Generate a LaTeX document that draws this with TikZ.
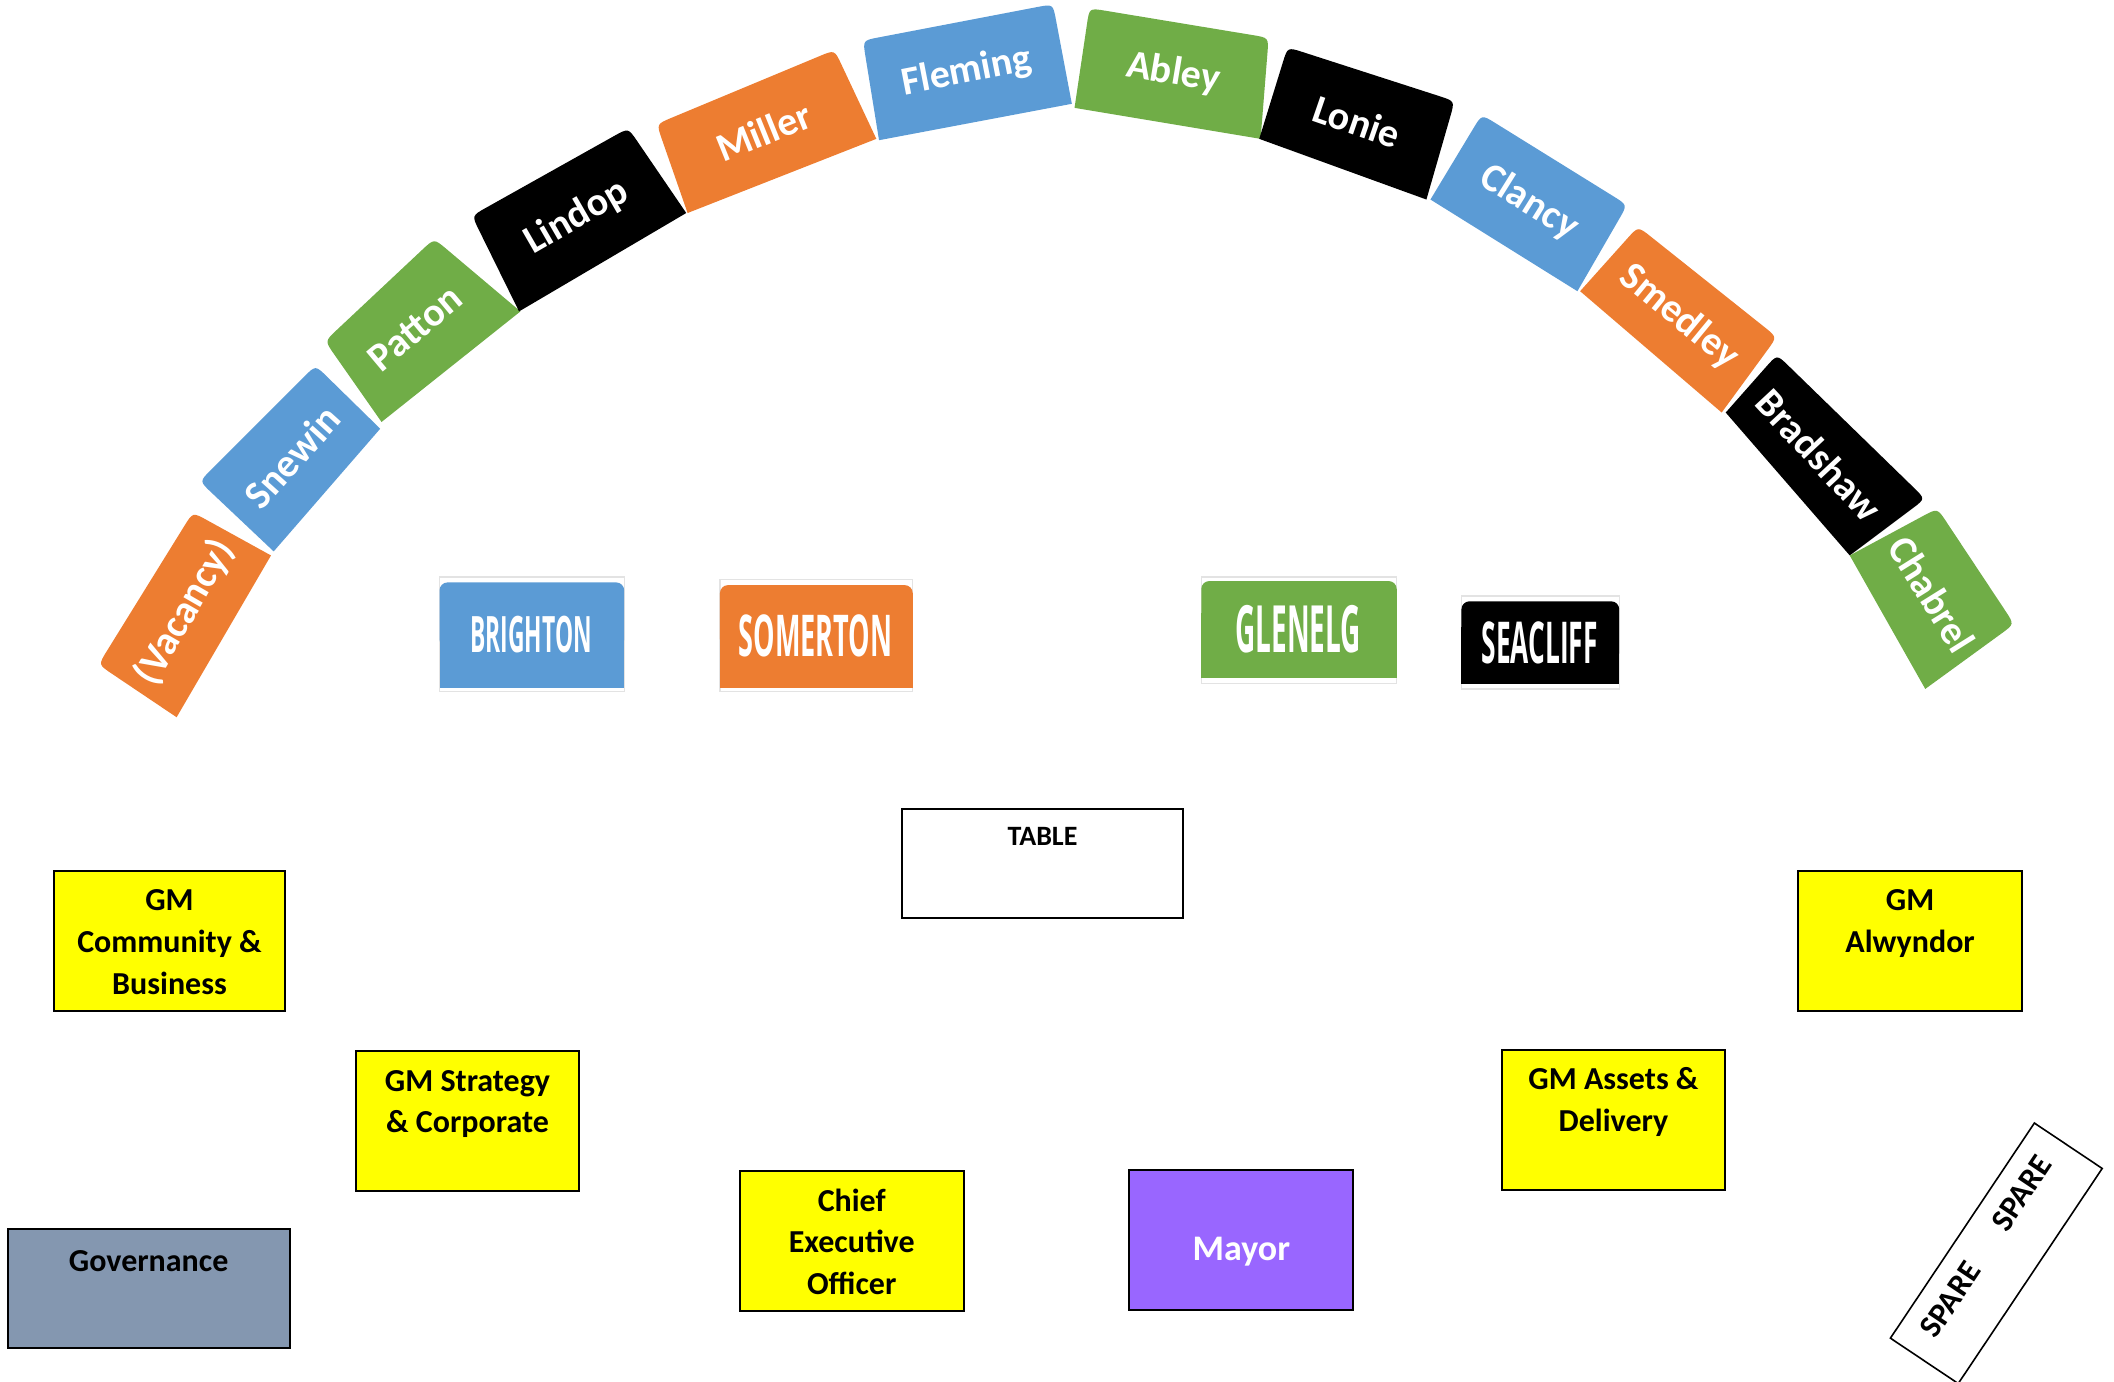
\documentclass[tikz,border=0pt]{standalone}
\usepackage{fontspec}
\setmainfont{Carlito}
\newfontfamily\wardfont{Open Sans}
\usepackage{graphicx}
\usetikzlibrary{calc}
\definecolor{cblue}{HTML}{5B9BD5}
\definecolor{corange}{HTML}{ED7D31}
\definecolor{cgreen}{HTML}{70AD47}
\definecolor{cyellow}{HTML}{FFFF00}
\definecolor{cslate}{HTML}{8497B0}
\definecolor{cpurple}{HTML}{9966FF}

% #1 name, #2 colour, #3 outer corner 1, #4 outer corner 2, #5 inner corner 2, #6 inner corner 1, #7 angle, #8 text
\newcommand{\seat}[8]{%
  \coordinate (#1-a) at (#3);
  \coordinate (#1-b) at (#4);
  \coordinate (#1-c) at (#5);
  \coordinate (#1-d) at (#6);
  \fill[#2] (#1-d) -- ($(#1-a)!8pt!(#1-d)$) .. controls (#1-a) .. ($(#1-a)!8pt!(#1-b)$)
     -- ($(#1-b)!8pt!(#1-a)$) .. controls (#1-b) .. ($(#1-b)!8pt!(#1-c)$) -- (#1-c) -- cycle;
  \coordinate (#1-m1) at ($(#1-a)!0.5!(#1-c)$);
  \coordinate (#1-m2) at ($(#1-b)!0.5!(#1-d)$);
  \node[seattext, rotate=#7] (#1) at ($(#1-m1)!0.5!(#1-m2)$) {#8};
}

\begin{document}
\begin{tikzpicture}[x=0.674pt, y=-0.674pt,
  seattext/.style={text=white, font=\bfseries\fontsize{20}{24}\selectfont, inner sep=0pt},
  staffbox/.style={draw=black, line width=1pt, fill=cyellow, anchor=north west, inner sep=0pt,
                   minimum width=111.9pt, minimum height=70.1pt},
  boxtext/.style={font=\bfseries\fontsize{16}{20.9}\selectfont, align=center, anchor=north, inner sep=0pt},
  wardframe/.style={draw=gray!22, line width=0.6pt},
  wardtext/.style={text=white, inner sep=0pt}
]
\useasboundingbox (0,0) rectangle (1568,1025);

% ---- seats along the arch ----
\seat{vac}{corange}{73,493}{143,380}{201,412}{131,532}{60}{(Vacancy)}
\seat{sne}{cblue}{148,357}{234,271}{282,318}{203,409}{48}{Snewin}
\seat{pat}{cgreen}{241,253}{322,177}{386,231}{283,313}{40}{Patton}
\seat{lin}{black}{350,160}{466,95}{509,158}{385,231}{30}{Lindop}
\seat{mil}{corange}{487,92}{619,37}{650,103}{510,158}{22}{Miller}
\seat{fle}{cblue}{640,30}{781,3}{795,77}{652,104}{11}{Fleming}
\seat{abl}{cgreen}{808,6}{941,28}{935,103}{797,80}{-9.5}{Abley}
\seat{lon}{black}{955,35}{1079,75}{1058,148}{934,103}{-19}{Lonie}
\seat{cla}{cblue}{1099,85}{1207,152}{1170,216}{1061,148}{-32}{Clancy}
\seat{sme}{corange}{1215,168}{1318,250}{1277,306}{1172,216}{-39.5}{Smedley}
\seat{bra}{black}{1318,263}{1428,370}{1372,412}{1280,306}{-47}{Bradshaw}
\seat{cha}{cgreen}{1437,377}{1494,463}{1428,511}{1372,412}{-58}{Chabrel}

% ---- ward labels ----
\draw[wardframe] (326,428) rectangle (463,513);
\fill[cblue, rounded corners=4pt] (326,432) rectangle (463,480);
\fill[cblue] (326,455) rectangle (463,510);
\node[wardtext] (brighton) at (394,471) {\resizebox{60.7pt}{18.2pt}{\wardfont\bfseries BRIGHTON}};

\draw[wardframe] (534,430) rectangle (677,513);
\fill[corange, rounded corners=4pt] (534,434) rectangle (677,480);
\fill[corange] (534,455) rectangle (677,510);
\node[wardtext] (somerton) at (605,472) {\resizebox{76.8pt}{20.9pt}{\wardfont\bfseries SOMERTON}};

\draw[wardframe] (891,428) rectangle (1036,507);
\fill[cgreen, rounded corners=4pt] (891,431) rectangle (1036,480);
\fill[cgreen] (891,455) rectangle (1036,503);
\node[wardtext] (glenelg) at (963,467) {\resizebox{62.7pt}{23.6pt}{\wardfont\bfseries GLENELG}};

\draw[wardframe] (1084,442) rectangle (1201,511);
\fill[black, rounded corners=4pt] (1084,446) rectangle (1201,490);
\fill[black] (1084,465) rectangle (1201,507);
\node[wardtext] (seacliff) at (1142,477) {\resizebox{58pt}{20.9pt}{\wardfont\bfseries SEACLIFF}};

% ---- table ----
\node[draw=black, line width=1pt, anchor=north west, inner sep=0pt,
      minimum width=140.9pt, minimum height=54.6pt] (table) at (668,599) {};
\node[font=\bfseries\fontsize{14}{18}\selectfont, anchor=north, inner sep=0pt, yshift=-6.7pt]
      (tabletext) at (table.north) {\rule{0pt}{12pt}TABLE};

% ---- staff boxes ----
\node[staffbox, minimum width=115.9pt] (gmcb) at (39,645) {};
\node[boxtext, yshift=-8.2pt] (gmcbtext) at (gmcb.north) {\rule{0pt}{12pt}GM\\Community \&\\Business};

\node[staffbox] (gmsc) at (263,779) {};
\node[boxtext, yshift=-8.2pt] (gmsctext) at (gmsc.north) {\rule{0pt}{12pt}GM Strategy\\\& Corporate};

\node[staffbox, fill=cslate, minimum width=140.9pt, minimum height=59.3pt] (gov) at (5,911) {};
\node[boxtext, yshift=-9.3pt] (govtext) at (gov.north) {\rule{0pt}{12pt}Governance};

\node[staffbox] (ceo) at (548,868) {};
\node[boxtext, yshift=-8.2pt] (ceotext) at (ceo.north) {\rule{0pt}{12pt}Chief\\Executive\\Officer};

\node[staffbox, fill=cpurple] (mayor) at (837,867) {};
\node[font=\bfseries\fontsize{18}{22}\selectfont, text=white, inner sep=0pt, yshift=-6pt]
      (mayortext) at (mayor.center) {Mayor};

\node[staffbox] (gmad) at (1113,778) {};
\node[boxtext, yshift=-8.2pt] (gmadtext) at (gmad.north) {\rule{0pt}{12pt}GM Assets \&\\Delivery};

\node[staffbox] (gma) at (1333,645) {};
\node[boxtext, yshift=-8.2pt] (gmatext) at (gma.north) {\rule{0pt}{12pt}GM\\Alwyndor};

% ---- spare ----
\node[draw=black, line width=0.8pt, rotate=56.2, inner sep=0pt,
      minimum width=129.4pt, minimum height=40.8pt] (spare) at (1480.7,929.6) {};
\node[font=\bfseries\fontsize{16}{20}\selectfont, rotate=56.2, inner sep=0pt]
      (sparetext) at ($(spare.center)!0.3!(spare.north)$) {SPARE\hspace{22.7pt}SPARE};
\end{tikzpicture}
\end{document}
